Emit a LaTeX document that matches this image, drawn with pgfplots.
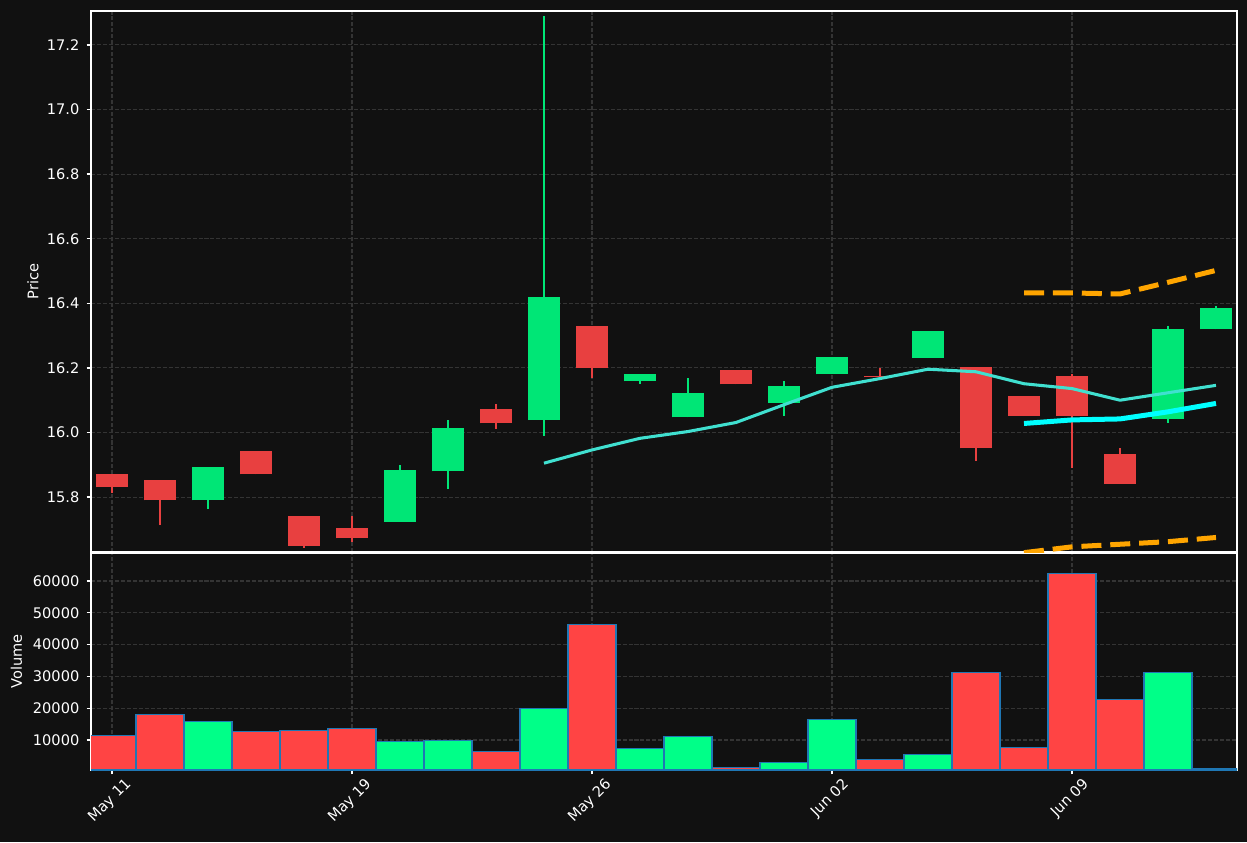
\documentclass[border=0pt]{standalone}
\usepackage{fontspec}
\setmainfont{DejaVu Sans}
\usepackage{graphicx}
\usepackage{pgfplots}
\usepackage{pgfplotstable}
\pgfplotsset{compat=1.18}

\definecolor{bg}{RGB}{17,17,17}
\definecolor{gridc}{RGB}{52,52,52}
\definecolor{cred}{RGB}{232,64,64}
\definecolor{cgreen}{RGB}{0,230,118}
\definecolor{vred}{RGB}{255,68,68}
\definecolor{vgreen}{RGB}{0,255,136}
\definecolor{vedge}{RGB}{31,119,180}
\definecolor{turq}{RGB}{64,224,208}
\definecolor{cyn}{RGB}{0,255,255}
\definecolor{orng}{RGB}{255,165,0}
\newcommand\tfont{\fontsize{10.5pt}{12pt}\selectfont}

% candles: x open high low close
\pgfplotstableread{
x o h l c
0 15.873 15.873 15.813 15.830
1 15.852 15.852 15.713 15.790
3 15.942 15.942 15.870 15.870
4 15.743 15.743 15.643 15.650
5 15.703 15.741 15.662 15.672
8 16.072 16.088 16.012 16.028
10 16.329 16.329 16.170 16.199
13 16.192 16.192 16.149 16.149
16 16.175 16.200 16.171 16.171
18 16.202 16.202 15.913 15.951
19 16.112 16.112 16.051 16.051
20 16.174 16.181 15.891 16.051
21 15.932 15.952 15.840 15.840
}\redc
\pgfplotstableread{
x o h l c
2 15.790 15.892 15.763 15.892
6 15.723 15.899 15.723 15.883
7 15.880 16.038 15.825 16.013
9 16.038 17.290 15.990 16.418
11 16.158 16.180 16.151 16.180
12 16.047 16.168 16.047 16.121
14 16.091 16.159 16.052 16.143
15 16.180 16.233 16.180 16.233
17 16.230 16.313 16.230 16.313
22 16.042 16.329 16.030 16.321
23 16.319 16.392 16.319 16.384
}\greenc
% volumes
\pgfplotstableread{
x v
0 11500
1 18100
3 12600
4 13050
5 13700
8 6450
10 46400
13 1400
16 3800
18 31300
19 7700
20 62400
21 22800
}\volred
\pgfplotstableread{
x v
2 15900
6 9600
7 9900
9 19950
11 7400
12 11150
14 3000
15 16500
17 5500
22 31300
23 1000
}\volgreen

\pgfplotsset{
 darkax/.style={
  scale only axis, width=825.12pt, xmin=-0.4375, xmax=23.4375,
  axis background/.style={fill=bg},
  axis line style={white, line width=0.9pt},
  tick style={white, line width=0.9pt},
  major tick length=3.2pt,
  tick align=outside,
  xtick pos=left, ytick pos=left,
  grid=major,
  major grid style={gridc, line width=0.8pt, dash pattern=on 2.9pt off 1.4pt},
  tick label style={white, font=\tfont},
  scaled y ticks=false,
  /pgf/number format/assume math mode=true,
 }
}

\begin{document}
\begin{tikzpicture}
\pgfplotsset{set layers=standard}
\begin{pgfonlayer}{axis background}
\fill[bg] (0,0) rectangle (897.84pt,-606.24pt);
\end{pgfonlayer}

\begin{axis}[darkax, at={(65.52pt,-7.92pt)}, anchor=north west, height=389.52pt,
  ymin=15.63, ymax=17.305,
  ytick={15.8,16.0,16.2,16.4,16.6,16.8,17.0,17.2},
  yticklabels={15.8,16.0,16.2,16.4,16.6,16.8,17.0,17.2},
  yticklabel style={anchor=east, inner sep=0pt, xshift=-5pt},
  xtick=\empty,
  extra x ticks={0,5,10,15,20}, extra x tick labels={},
  extra x tick style={major tick length=0pt, grid=major},
  ylabel={Price},
  every axis y label/.style={at={(axis description cs:-0.0506,0.5)}, rotate=90, anchor=center, text=white, font=\tfont},
]
% wicks
\addplot[draw=none, forget plot, error bars/.cd, y dir=plus, y explicit, error mark=none,
  error bar style={draw=cred, line width=1.2pt, solid}]
  table[x=x, y=l, y error plus expr=\thisrow{h}-\thisrow{l}] {\redc};
\addplot[draw=none, forget plot, error bars/.cd, y dir=plus, y explicit, error mark=none,
  error bar style={draw=cgreen, line width=1.2pt, solid}]
  table[x=x, y=l, y error plus expr=\thisrow{h}-\thisrow{l}] {\greenc};
% bodies
\addplot[draw=none, forget plot, error bars/.cd, y dir=plus, y explicit, error mark=none,
  error bar style={draw=cred, line width=23.5pt, solid}]
  table[x=x, y=c, y error plus expr=\thisrow{o}-\thisrow{c}] {\redc};
\addplot[draw=none, forget plot, error bars/.cd, y dir=plus, y explicit, error mark=none,
  error bar style={draw=cgreen, line width=23.5pt, solid}]
  table[x=x, y=o, y error plus expr=\thisrow{c}-\thisrow{o}] {\greenc};
% moving averages / bands
\addplot[turq, line width=2.2pt, line join=round] coordinates {
 (9,15.905) (10,15.946) (11,15.982) (12,16.003) (13,16.031) (14,16.086) (15,16.140)
 (16,16.167) (17,16.196) (18,16.188) (19,16.151) (20,16.136) (21,16.100) (22,16.123) (23,16.146)};
\addplot[cyn, line width=3.6pt, line join=round] coordinates {
 (19,16.028) (20,16.039) (21,16.042) (22,16.064) (23,16.090)};
\addplot[orng, line width=3.6pt, dash pattern=on 14.4pt off 6.4pt] coordinates {
 (19,16.432) (20,16.432) (21,16.429) (22,16.465) (23,16.502)};
\addplot[orng, line width=3.6pt, dash pattern=on 14.4pt off 6.4pt] coordinates {
 (19,15.628) (20,15.646) (21,15.654) (22,15.662) (23,15.675)};
\end{axis}

\begin{axis}[darkax, at={(65.52pt,-398.16pt)}, anchor=north west, height=156.24pt,
  ymin=566, ymax=68800,
  ytick={10000,20000,30000,40000,50000,60000},
  yticklabels={10000,20000,30000,40000,50000,60000},
  yticklabel style={anchor=east, inner sep=0pt, xshift=-5pt},
  xtick={0,5,10,15,20},
  xticklabels={\rotatebox{45}{May 11},\rotatebox{45}{May 19},\rotatebox{45}{May 26},\rotatebox{45}{Jun 02},\rotatebox{45}{Jun 09}},
  xticklabel style={anchor=north, inner sep=0pt, yshift=-1.8pt, xshift=-1.4pt},
  ylabel={Volume},
  every axis y label/.style={at={(axis description cs:-0.065,0.5)}, rotate=90, anchor=center, text=white, font=\tfont},
]
\addplot[ybar, bar width=1, bar shift=0pt, fill=vred, draw=vedge, line width=0.8pt]
  table[x=x, y=v] {\volred};
\addplot[ybar, bar width=1, bar shift=0pt, fill=vgreen, draw=vedge, line width=0.8pt]
  table[x=x, y=v] {\volgreen};
\end{axis}

\pgfresetboundingbox
\path[use as bounding box] (0,0) rectangle (897.84pt,-606.24pt);
\end{tikzpicture}
\end{document}
